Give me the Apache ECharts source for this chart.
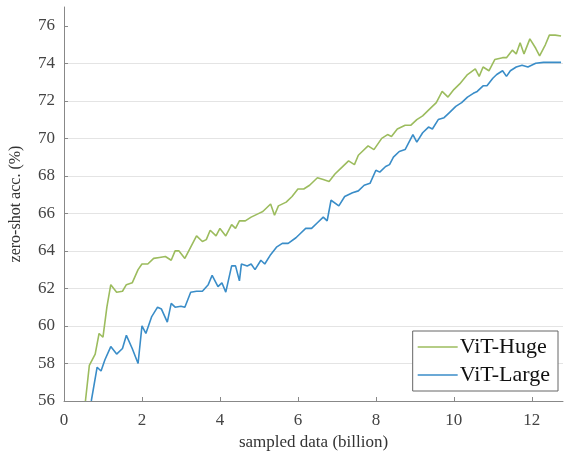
<!DOCTYPE html>
<html>
<head>
<meta charset="utf-8">
<script src="https://cdn.jsdelivr.net/npm/echarts@6/dist/echarts.min.js"></script>
<style>html,body{margin:0;padding:0;background:#fff}#c{width:564px;height:457px}</style>
</head>
<body>
<div id="c"></div>
<script>
const xTicks = [0, 2, 4, 6, 8, 10, 12];
const yTicks = [56, 58, 60, 62, 64, 66, 68, 70, 72, 74, 76];
const seriesNames = ['ViT-Huge', 'ViT-Large'];

const hugeX = [0.55,0.65,0.8,0.9,1.0,1.1,1.2,1.35,1.5,1.6,1.75,1.9,2.0,2.15,2.3,2.45,2.6,2.75,2.85,2.95,3.1,3.25,3.4,3.55,3.65,3.75,3.9,4.0,4.15,4.3,4.4,4.5,4.65,4.8,5.0,5.1,5.3,5.4,5.5,5.7,5.85,6.0,6.15,6.3,6.5,6.65,6.8,6.95,7.1,7.3,7.45,7.55,7.65,7.8,7.95,8.15,8.3,8.4,8.55,8.75,8.9,9.05,9.2,9.35,9.55,9.7,9.85,10.0,10.15,10.35,10.55,10.65,10.75,10.9,11.05,11.25,11.35,11.5,11.6,11.7,11.8,11.95,12.1,12.2,12.35,12.45,12.6,12.75];
const hugeY = [56.0,57.9,58.5,59.6,59.4,61.0,62.2,61.8,61.85,62.2,62.3,63.0,63.3,63.3,63.6,63.65,63.7,63.5,64.0,64.0,63.6,64.2,64.8,64.5,64.6,65.1,64.8,65.2,64.8,65.4,65.2,65.6,65.6,65.8,66.0,66.1,66.5,65.9,66.4,66.6,66.9,67.3,67.3,67.5,67.9,67.8,67.7,68.1,68.4,68.8,68.6,69.1,69.3,69.6,69.4,70.0,70.2,70.1,70.5,70.7,70.7,71.0,71.2,71.5,71.9,72.5,72.2,72.6,72.9,73.4,73.7,73.3,73.8,73.6,74.2,74.3,74.3,74.7,74.5,75.1,74.5,75.3,74.8,74.4,75.0,75.5,75.5,75.45];

const largeX = [0.7,0.85,0.95,1.05,1.2,1.35,1.5,1.6,1.75,1.9,2.0,2.1,2.25,2.4,2.5,2.65,2.75,2.85,3.0,3.1,3.25,3.4,3.55,3.7,3.8,3.95,4.05,4.15,4.3,4.4,4.5,4.55,4.7,4.8,4.9,5.05,5.15,5.3,5.45,5.6,5.75,5.95,6.05,6.2,6.35,6.5,6.65,6.75,6.85,7.05,7.2,7.4,7.55,7.7,7.85,8.0,8.1,8.25,8.35,8.45,8.6,8.75,8.85,8.95,9.05,9.2,9.35,9.45,9.6,9.75,9.9,10.05,10.2,10.35,10.5,10.6,10.75,10.85,11.0,11.1,11.25,11.35,11.45,11.6,11.75,11.9,12.1,12.3,12.5,12.75];
const largeY = [56.0,57.8,57.6,58.2,58.9,58.5,58.8,59.5,58.8,58.0,60.0,59.6,60.5,61.0,60.9,60.2,61.2,61.0,61.05,61.0,61.8,61.85,61.85,62.2,62.7,62.1,62.3,61.8,63.2,63.2,62.4,63.3,63.2,63.3,63.0,63.5,63.3,63.8,64.2,64.4,64.4,64.7,64.9,65.2,65.2,65.5,65.8,65.6,66.7,66.4,66.9,67.1,67.2,67.5,67.6,68.3,68.2,68.5,68.6,69.0,69.3,69.4,69.8,70.2,69.8,70.3,70.6,70.5,71.0,71.1,71.4,71.7,71.9,72.2,72.4,72.5,72.8,72.8,73.2,73.4,73.6,73.3,73.6,73.8,73.9,73.8,74.0,74.05,74.05,74.05];

const zip = (xs, ys) => xs.map((x, i) => [x, ys[i]]);
const font = '"Liberation Serif", "Times New Roman", serif';

const chart = echarts.init(document.getElementById('c'), null, {renderer: 'canvas'});
chart.setOption({
  animation: false,
  backgroundColor: '#fff',
  textStyle: {fontFamily: font},
  grid: {left: 62, right: 1, top: 7, bottom: 56},
  legend: {
    orient: 'vertical',
    right: 6,
    bottom: 66,
    backgroundColor: '#fff',
    borderColor: '#666',
    borderWidth: 1,
    borderRadius: 0,
    padding: [3, 8, 3, 5],
    itemGap: 2,
    itemWidth: 40,
    itemHeight: 1.6,
    icon: 'rect',
    textStyle: {fontFamily: font, fontSize: 22, color: '#111', padding: [0, 0, 0, -3], lineHeight: 26},
    data: seriesNames
  },
  xAxis: {
    type: 'value',
    min: 0,
    max: 12.8,
    interval: 2,
    name: 'sampled data (billion)',
    nameLocation: 'middle',
    nameGap: 29,
    nameTextStyle: {fontFamily: font, fontSize: 17, color: '#333'},
    axisLine: {show: true, lineStyle: {color: '#888', width: 1}},
    axisTick: {show: true, inside: true, length: 4, lineStyle: {color: '#888'}, customValues: xTicks},
    axisLabel: {fontFamily: font, fontSize: 17, color: '#444', margin: 11, customValues: xTicks},
    splitLine: {show: false}
  },
  yAxis: {
    type: 'value',
    min: 56,
    max: 77,
    interval: 2,
    name: 'zero-shot acc. (%)',
    nameLocation: 'middle',
    nameGap: 40,
    nameTextStyle: {fontFamily: font, fontSize: 16, color: '#333'},
    axisLine: {show: true, lineStyle: {color: '#888', width: 1}},
    axisTick: {show: true, inside: true, length: 4, lineStyle: {color: '#888'}, customValues: yTicks},
    axisLabel: {fontFamily: font, fontSize: 17, color: '#444', margin: 9, customValues: yTicks},
    splitLine: {show: true, showMaxLine: false, showMinLine: false, lineStyle: {color: '#e4e4e4', width: 1}}
  },
  series: [
    {
      name: seriesNames[0],
      type: 'line',
      data: zip(hugeX, hugeY),
      symbol: 'none',
      lineStyle: {color: '#9cbc5e', width: 1.6},
      itemStyle: {color: '#9cbc5e'},
      clip: true
    },
    {
      name: seriesNames[1],
      type: 'line',
      data: zip(largeX, largeY),
      symbol: 'none',
      lineStyle: {color: '#3a8dc8', width: 1.6},
      itemStyle: {color: '#3a8dc8'},
      clip: true
    }
  ]
});
</script>
</body>
</html>
